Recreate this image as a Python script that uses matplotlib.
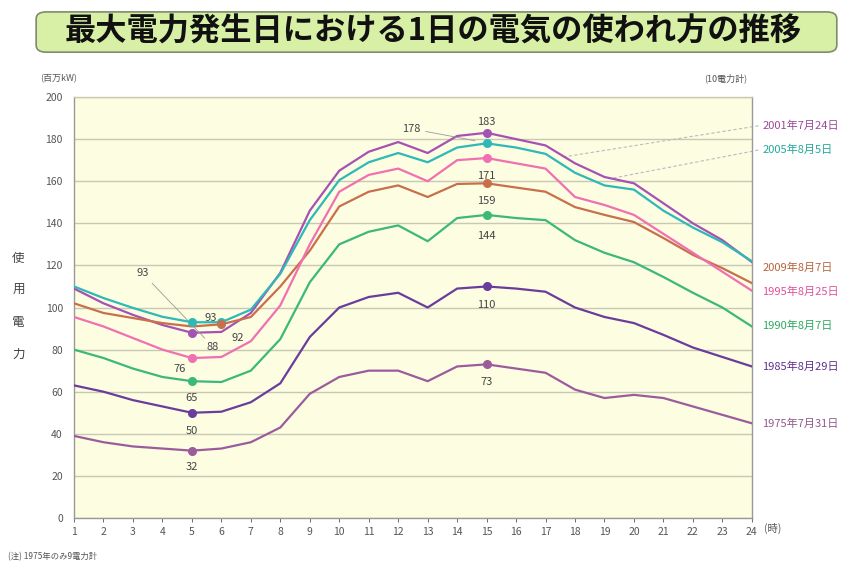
import matplotlib
matplotlib.use("Agg")
import matplotlib.pyplot as plt
from matplotlib.patches import FancyBboxPatch

plt.rcParams["font.family"] = ["Noto Sans CJK JP", "DejaVu Sans"]

# ---------------------------------------------------------------------------
hours = list(range(1, 25))

s2001 = [109, 102, 96.5, 91.7, 88, 88.4, 97.4, 116.5, 146, 165, 174, 178.6,
         173.4, 181.5, 183, 180, 177, 168.5, 162, 159, 149.5, 140, 132, 121.6]
s2005 = [110, 104.5, 99.8, 95.6, 93, 93, 99, 116, 141.5, 160.5, 169, 173.4,
         169, 176, 178, 176, 173, 164, 158, 156, 146, 138, 131, 122]
s2009 = [102, 97.4, 95, 92.6, 91, 92, 95.5, 110, 127, 148, 155, 158,
         152.5, 158.7, 159, 157, 155, 147.7, 144, 140.6, 133, 125, 118.7, 111.6]
s1995 = [95.5, 91, 85.5, 80, 76, 76.5, 84, 101, 130, 155, 163, 166,
         160, 170, 171, 168.5, 166, 152.5, 148.7, 144, 135, 126, 117, 108]
s1990 = [80, 76, 71, 67, 65, 64.6, 70, 85, 112, 130, 136, 139,
         131.5, 142.5, 144, 142.5, 141.5, 132, 126, 121.5, 114.5, 107, 100, 91]
s1985 = [63, 60, 56, 53, 50, 50.5, 55, 64, 86, 100, 105, 107,
         100, 109, 110, 109, 107.5, 100, 95.5, 92.6, 87, 81, 76.5, 72]
s1975 = [39, 36, 34, 33, 32, 33, 36, 43, 59, 67, 70, 70,
         65, 72, 73, 71, 69, 61, 57, 58.5, 57, 53, 49, 45]

names = ["2001年7月24日", "2005年8月5日", "2009年8月7日", "1995年8月25日",
         "1990年8月7日", "1985年8月29日", "1975年7月31日"]
series = [s2001, s2005, s2009, s1995, s1990, s1985, s1975]
colors = ["#a652b4", "#2fb8b8", "#c8704c", "#f070b0", "#3cb878", "#6a3c9c", "#9c5c9c"]
text_colors = ["#9a4a9a", "#22a89c", "#b8643e", "#e0509a", "#2ea860", "#60308e", "#905a90"]
label_y = [186.5, 175, 119, 107.5, 91.5, 72, 45]

title = "最大電力発生日における1日の電気の使われ方の推移"

fig = plt.figure(figsize=(8.41, 5.67), dpi=100)
ax = fig.add_axes([0.088, 0.0864, 0.806, 0.7425])
ax.set_facecolor("#fdfde2")

for s, c in zip(series, colors):
    ax.plot(hours, s, color=c, linewidth=1.6, zorder=3)

ax.set_xlim(1, 24)
ax.set_ylim(0, 200)
ax.set_xticks(hours)
ax.set_yticks(range(0, 201, 20))
ax.tick_params(axis="both", labelsize=7.5, colors="#555555", length=3, width=0.6)
ax.tick_params(axis="y", length=0, pad=8)
ax.grid(axis="y", color="#c9c8b2", linewidth=1.0, zorder=1)
for side in ["left", "right", "bottom", "top"]:
    ax.spines[side].set_color("#999999")
    ax.spines[side].set_linewidth(1.0)
ax.spines["top"].set_color("#c9c8b2")

# markers with value labels (series index, hour, offset in points)
marks = [
    (0, 15, (0, 8), "center"),
    (1, 15, None, None),
    (3, 15, (0, -13), "center"),
    (2, 15, (0, -13), "center"),
    (4, 15, (0, -15), "center"),
    (5, 15, (0, -13), "center"),
    (6, 15, (0, -13), "center"),
    (1, 5, None, None),
    (1, 6, (-8, 3), "center"),
    (2, 6, (12, -10), "center"),
    (0, 5, (15, -10), "center"),
    (3, 5, (-9, -8), "center"),
    (4, 5, (0, -12), "center"),
    (5, 5, (0, -13), "center"),
    (6, 5, (0, -12), "center"),
]
for si, h, off, ha in marks:
    v = series[si][h - 1]
    ax.plot(h, v, "o", color=colors[si], markersize=5.5, zorder=4)
    if off is not None:
        ax.annotate(f"{v:.0f}", (h, v), xytext=off, textcoords="offset points",
                    ha=ha, va="center", fontsize=8, color="#444444", zorder=5)

# labels with leader lines
v178 = series[1][14]
ax.annotate(f"{v178:.0f}", (14.7, v178 + 1), xytext=(-48, 9), textcoords="offset points",
            ha="center", va="center", fontsize=8, color="#444444",
            arrowprops=dict(arrowstyle="-", color="#999999", lw=0.6))
v93 = series[1][4]
ax.annotate(f"{v93:.0f}", (5.5, 84.5), xytext=(-46, 48), textcoords="offset points",
            ha="center", va="center", fontsize=8, color="#444444",
            arrowprops=dict(arrowstyle="-", color="#999999", lw=0.6))

# right side series names
for name, c, ly, si, lx0, ly0 in [
    (names[0], text_colors[0], label_y[0], 0, 17.6, 171.5),
    (names[1], text_colors[1], label_y[1], 1, 19.3, 161.5),
]:
    ax.plot([lx0, 24.3], [ly0, ly], color="#bbbbbb", linewidth=0.8,
            linestyle=(0, (3, 2)), clip_on=False, zorder=2)
for name, c, ly in zip(names, text_colors, label_y):
    ax.text(24.35, ly, name, color=c, fontsize=8, ha="left", va="center",
            clip_on=False)

ax.text(24.4, -2.2, "(時)", fontsize=7.5, color="#555555", ha="left", va="top")
fig.text(0.048, 0.862, "(百万kW)", fontsize=6.5, color="#555555", ha="left", va="center")
fig.text(0.888, 0.862, "(10電力計)", fontsize=6.5, color="#555555", ha="right", va="center")
fig.text(0.022, 0.46, "使\n用\n電\n力", fontsize=9, color="#444444", ha="center",
         va="center", linespacing=2.9)
fig.text(0.01, 0.018, "(注) 1975年のみ9電力計", fontsize=6, color="#555555",
         ha="left", va="center")

# title banner
box = FancyBboxPatch((0.047, 0.912), 0.944, 0.063, boxstyle="round,pad=0.004,rounding_size=0.012",
                     transform=fig.transFigure, facecolor="#d8f0a6", edgecolor="#7d8c6c",
                     linewidth=1.2)
fig.patches.append(box)
fig.text(0.515, 0.944, title, fontsize=22.5, fontweight="bold", color="#111111",
         ha="center", va="center")

fig.savefig("out.png", dpi=100)
